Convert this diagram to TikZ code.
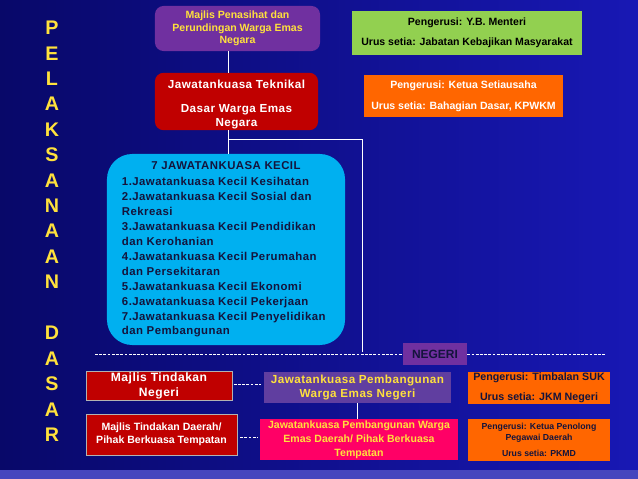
\documentclass[tikz,border=0pt]{standalone}
\usepackage{fontspec}
\setmainfont{Liberation Sans}
\newfontfamily\widefont{Liberation Sans}[LetterSpace=4]
\usetikzlibrary{positioning, calc}

\definecolor{bgleft}{RGB}{8,8,105}
\definecolor{bgright}{RGB}{24,24,180}
\definecolor{bandblue}{RGB}{70,70,190}
\definecolor{purpleA}{RGB}{112,48,160}
\definecolor{purpleB}{RGB}{96,62,160}
\definecolor{redbox}{RGB}{192,0,0}
\definecolor{greenbox}{RGB}{146,208,80}
\definecolor{orangebox}{RGB}{255,102,0}
\definecolor{cyanbox}{RGB}{0,176,240}
\definecolor{pinkbox}{RGB}{255,0,102}
\definecolor{yellowT}{RGB}{255,225,60}
\definecolor{navyT}{RGB}{20,20,60}

\begin{document}
\begin{tikzpicture}[x=0.025cm, y=-0.025cm,
    box/.style={rectangle, align=center, inner sep=1pt, font=\bfseries\fontsize{7.5}{8.9}\selectfont},
    widebox/.style={box, font=\widefont\bfseries\fontsize{8.3}{10}\selectfont},
    vletter/.style={text=yellowT, font=\bfseries\fontsize{14}{14}\selectfont},
    wire/.style={white, line width=0.6pt},
    dashwire/.style={white, line width=0.4pt, dash pattern=on 2pt off 1pt}
]

% Background
\shade[left color=bgleft, right color=bgright] (0,0) rectangle (638,479);
\fill[bandblue] (0,470) rectangle (638,479);

% Vertical title
\foreach \ch [count=\i from 0] in {P,E,L,A,K,S,A,N,A,A,N} {
    \node[vletter] (p\i) at (52,{28+25.4*\i}) {\ch};
}
\foreach \ch [count=\i from 0] in {D,A,S,A,R} {
    \node[vletter] (d\i) at (52,{333+25.5*\i}) {\ch};
}

% National level
\node[box, fill=purpleA, rounded corners=6pt, minimum width=4.125cm, minimum height=1.125cm, text=yellowT] (penasihat) at (237.5,28.5) {Majlis Penasihat dan\\Perundingan Warga Emas\\Negara};
\node[box, fill=greenbox, minimum width=5.75cm, minimum height=1.1cm, text=black] (menteri) at (467,33) {Pengerusi: Y.B. Menteri\\[5pt]Urus setia: Jabatan Kebajikan Masyarakat};
\node[widebox, fill=redbox, rounded corners=6pt, minimum width=4.075cm, minimum height=1.075cm, text=white] (teknikal) at (236.5,101.5) {\rule{0pt}{10pt}Jawatankuasa Teknikal\\[7pt]Dasar Warga Emas\\Negara};
\node[box, fill=orangebox, minimum width=4.975cm, minimum height=1.05cm, text=white] (ketua) at (463.5,96) {Pengerusi: Ketua Setiausaha\\[6pt]Urus setia: Bahagian Dasar, KPWKM};

% Sub-committees
\node[box, fill=cyanbox, rounded corners=18pt, minimum width=5.95cm, minimum height=4.775cm, align=left, text=navyT, font=\widefont\bfseries\fontsize{8.1}{10.6}\selectfont] (kecil) at (226,249.5) {\makebox[5.2cm]{7 JAWATANKUASA KECIL}\\[1pt]
1.Jawatankuasa Kecil Kesihatan\\
2.Jawatankuasa Kecil Sosial dan\\
Rekreasi\\
3.Jawatankuasa Kecil Pendidikan\\
dan Kerohanian\\
4.Jawatankuasa Kecil Perumahan\\
dan Persekitaran\\
5.Jawatankuasa Kecil Ekonomi\\
6.Jawatankuasa Kecil Pekerjaan\\
7.Jawatankuasa Kecil Penyelidikan\\
dan Pembangunan};

% State and district level
\node[box, fill=purpleA, minimum width=1.6cm, minimum height=0.55cm, text=navyT, font=\bfseries\fontsize{8.5}{9}\selectfont] (negeri) at (435,354) {NEGERI};
\node[widebox, fill=redbox, draw=gray!60, thin, minimum width=3.65cm, minimum height=0.625cm, text=white, font=\widefont\bfseries\fontsize{8.6}{10.7}\selectfont] (mtn) at (159,385.5) {Majlis Tindakan\\Negeri};
\node[widebox, fill=purpleB, minimum width=4.675cm, minimum height=0.775cm, text=yellowT, font=\widefont\bfseries\fontsize{8.3}{9.3}\selectfont] (jpn) at (357.5,387.5) {Jawatankuasa Pembangunan\\Warga Emas Negeri};
\node[box, fill=orangebox, minimum width=3.55cm, minimum height=0.8cm, text=navyT, font=\bfseries\fontsize{7.6}{9}\selectfont] (suk) at (539,388) {Pengerusi: Timbalan SUK\\[5pt]Urus setia: JKM Negeri};
\node[box, fill=redbox, draw=gray!60, thin, minimum width=3.775cm, minimum height=1.025cm, text=white, font=\bfseries\fontsize{7.5}{9.2}\selectfont] (mtd) at (161.5,434.5) {Majlis Tindakan Daerah/\\Pihak Berkuasa Tempatan};
\node[box, fill=pinkbox, minimum width=4.95cm, minimum height=1.025cm, text=yellowT, font=\bfseries\fontsize{7.5}{10}\selectfont] (pbt) at (359,439.5) {Jawatankuasa Pembangunan Warga\\Emas Daerah/ Pihak Berkuasa\\Tempatan};
\node[box, fill=orangebox, minimum width=3.55cm, minimum height=1.05cm, text=navyT, font=\bfseries\fontsize{6.2}{7.8}\selectfont] (pkmd) at (539,440) {Pengerusi: Ketua Penolong\\Pegawai Daerah\\[3.6pt]Urus setia: PKMD};

% Connectors
\coordinate (j1) at (228,139);
\coordinate (j2) at (362,139);
\coordinate (dl) at (95,354);
\coordinate (dr) at (605,354);
\draw[wire] (penasihat.south -| j1) -- (teknikal.north -| j1);
\draw[wire] (teknikal.south -| j1) -- (kecil.north -| j1);
\draw[wire] (j1) -| ($(j2 |- dl)+(0,-2)$);
\draw[dashwire] (dl) -- (negeri.west);
\draw[dashwire] (negeri.east) -- (dr);
\draw[dashwire, shorten <=1pt, shorten >=2pt] ([yshift=1pt]mtn.east) -- ([yshift=1pt]mtn.east -| jpn.west);
\draw[dashwire, shorten <=2pt, shorten >=1pt] ([yshift=-2pt]mtd.east) -- ([yshift=-2pt]mtd.east -| pbt.west);
\draw[wire] (jpn.south) -- (jpn.south |- pbt.north);

\end{tikzpicture}
\end{document}
